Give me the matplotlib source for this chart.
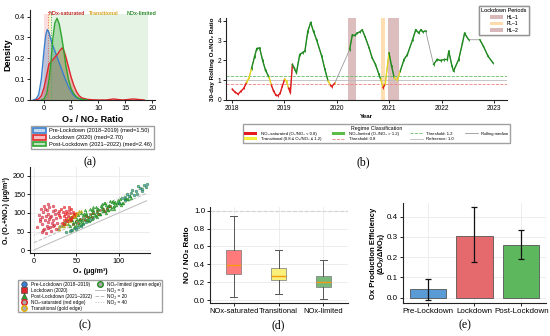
import numpy as np
import pandas as pd
import matplotlib
matplotlib.use("Agg")
import matplotlib.pyplot as plt
import matplotlib.dates as mdates
from matplotlib.patches import Patch
from matplotlib.lines import Line2D

plt.rcParams.update({
    "font.family": ["Liberation Sans", "DejaVu Sans"],
    "font.size": 5,
    "axes.linewidth": 0.8,
    "axes.edgecolor": "#222222",
    "xtick.major.size": 2, "ytick.major.size": 2,
    "xtick.major.width": 0.6, "ytick.major.width": 0.6,
    "xtick.major.pad": 1.5, "ytick.major.pad": 1.5,
    "axes.labelpad": 2,
})

BLUE, RED, GREEN = "#3A7FCB", "#E0262B", "#2FA52F"
C_SAT, C_TR, C_LIM = "#E41A1C", "#E6D51E", "#1E8B1E"

# ---------------- (a) KDE of O3/NO2 ratio (densities) ----------------
pre_x = [-2.0, -1.5, -1.0, -0.5, 0.0, 0.3, 0.6, 0.9, 1.2, 1.5, 2.0, 2.5, 3.0, 3.5, 4.0, 4.5, 5.0, 5.5, 6.0, 7.0, 8.0]
pre_d = [0.0, 0.004, 0.025, 0.10, 0.24, 0.31, 0.338, 0.325, 0.295, 0.27, 0.235, 0.20, 0.165, 0.13, 0.095, 0.065, 0.04, 0.022, 0.01, 0.003, 0.0]
lock_x = [-1.5, -1.0, -0.5, 0.0, 0.5, 0.9, 1.5, 2.0, 2.5, 3.0, 3.35, 3.7, 4.0, 4.5, 5.0, 5.5, 6.0, 6.5, 7.0, 8.0, 9.0, 10.0,
          11.5, 12.3, 12.8, 13.4, 14.5, 15.8, 16.5, 17.2, 18.5]
lock_d = [0.0, 0.005, 0.02, 0.06, 0.12, 0.172, 0.19, 0.205, 0.22, 0.24, 0.25, 0.235, 0.21, 0.16, 0.11, 0.07, 0.04, 0.02, 0.01,
          0.003, 0.001, 0.0, 0.0, 0.003, 0.005, 0.003, 0.0, 0.003, 0.005, 0.003, 0.0]
post_x = [-0.5, 0.0, 0.5, 1.0, 1.3, 1.6, 2.0, 2.4, 2.8, 3.2, 3.6, 4.0, 4.5, 5.0, 5.5, 6.0, 6.5, 7.0, 8.0]
post_d = [0.0, 0.005, 0.03, 0.11, 0.19, 0.29, 0.37, 0.392, 0.365, 0.31, 0.245, 0.17, 0.10, 0.055, 0.03, 0.015, 0.007, 0.003, 0.0]
period_labels = ["Pre-Lockdown (2018\u20132019) (med=1.50)", "Lockdown (2020) (med=2.70)",
                 "Post-Lockdown (2021\u20132022) (med=2.46)"]

# ---------------- (b) 30-day rolling O3/NO2 ratio ----------------
b_dates = ["2018-01-05", "2018-01-25", "2018-02-15", "2018-03-08", "2018-03-28", "2018-04-15", "2018-05-01",
           "2018-05-20", "2018-06-10", "2018-06-25", "2018-07-15", "2018-08-05", "2018-08-25", "2018-09-20",
           "2018-10-05", "2018-10-20", "2018-11-05", "2018-11-20", "2018-12-05", "2018-12-20", "2019-01-05",
           "2019-01-18", "2019-02-01", "2019-02-14", "2019-02-28", "2019-03-14", "2019-03-28", "2019-04-20",
           "2019-05-10", "2019-05-26", "2019-06-15", "2019-07-05", "2019-07-25", "2019-08-15", "2019-09-20",
           "2019-10-12", "2019-11-03", "2019-11-20", "2019-11-29", "2019-12-20",
           "2020-04-01", "2020-04-20", "2020-05-10", "2020-05-22", "2020-06-12", "2020-06-28", "2020-07-18",
           "2020-08-15", "2020-09-05", "2020-09-28", "2020-10-22", "2020-11-03", "2020-11-20", "2020-12-05",
           "2020-12-31", "2021-01-18", "2021-02-05", "2021-02-27", "2021-03-20", "2021-04-15", "2021-05-08",
           "2021-06-13", "2021-07-05", "2021-07-25", "2021-08-10", "2021-08-25", "2021-09-12",
           "2021-11-06", "2021-12-01", "2021-12-25", "2022-01-20", "2022-02-10", "2022-02-20", "2022-03-14",
           "2022-03-25", "2022-04-30", "2022-05-26", "2022-06-10", "2022-07-08",
           "2022-09-24", "2022-10-19", "2022-11-20", "2022-12-24"]
b_ratio = [0.55, 0.4, 0.3, 0.45, 0.6, 0.9, 1.1, 1.6, 2.2, 2.6, 2.63, 2.0, 1.5, 1.13,
           0.75, 0.45, 0.25, 0.22, 0.35, 0.7, 1.05, 0.95, 0.6, 0.38, 1.8, 1.6, 1.38, 2.3,
           2.4, 2.47, 3.47, 3.92, 3.47, 3.05, 2.22, 1.55, 0.97, 0.75, 0.68, 0.85,
           2.55, 3.3, 3.3, 3.38, 3.45, 3.55, 3.2, 2.63, 2.13, 1.8, 1.3, 1.05, 0.63, 0.8,
           2.38, 1.72, 1.13, 1.02, 1.48, 2.05, 2.3, 3.05, 3.55, 3.4, 3.55, 3.45, 3.5,
           1.8, 2.05, 2.0, 2.05, 2.05, 2.47, 1.72, 1.47, 2.05, 2.88, 3.38, 3.05,
           3.05, 2.72, 2.22, 1.88]
seg_starts = ["2020-04-01", "2021-11-06", "2022-09-24"]   # data resumes after a gap
lockdowns = [("HL\u20131", "2020-03-23", "2020-05-13", "#C08A8A", 0.55),
             ("PL\u20131", "2020-11-05", "2020-12-02", "#FFC980", 0.6),
             ("HL\u20132", "2020-12-26", "2021-03-08", "#C08A8A", 0.55)]

# ---------------- (c) Ox vs O3 scatter (ug/m3) ----------------
pre_sat_o3 = [4, 6, 7, 8, 9, 10, 11, 12, 12, 13, 14, 15, 15, 16, 17, 18, 18, 19, 20, 21,
              22, 22, 23, 24, 25, 26, 27, 28, 9, 11, 14, 17, 20, 23, 26, 13, 16, 19, 7, 25]
pre_sat_ox = [62, 95, 78, 110, 70, 88, 102, 58, 120, 81, 93, 66, 107, 75, 98, 84, 115, 62, 91, 72,
              104, 80, 118, 68, 96, 86, 74, 100, 48, 55, 45, 60, 52, 64, 58, 112, 124, 88, 85, 108]
pre_tr_o3 = [28, 30, 33, 35, 36, 38, 40, 42, 31, 44, 37, 34]
pre_tr_ox = [58, 62, 66, 72, 70, 78, 80, 86, 64, 90, 75, 68]
pre_lim_o3 = [38, 42, 45, 48, 52, 55, 58, 62, 66, 70, 50, 44,
              100, 104, 107, 110, 112, 115, 118, 120, 122, 125, 127, 130, 132, 134, 116, 123, 108, 128]
pre_lim_ox = [48, 52, 55, 60, 62, 66, 70, 76, 80, 86, 58, 54,
              128, 140, 135, 150, 145, 155, 148, 160, 152, 168, 158, 175, 170, 178, 162, 172, 142, 165]
lock_sat_o3 = [29, 31, 32, 34, 35, 36, 37, 38, 39, 40, 41, 42, 43, 44, 45, 46, 33, 38, 41, 36, 30, 44, 47, 39, 35]
lock_sat_ox = [95, 88, 110, 102, 82, 115, 96, 105, 78, 92, 108, 85, 99, 112, 90, 103, 74, 86, 117, 70, 104, 80, 96, 100, 92]
lock_tr_o3 = [36, 38, 40, 42, 44, 46, 48, 50, 41, 47]
lock_tr_ox = [72, 80, 78, 88, 86, 94, 92, 100, 84, 98]
lock_lim_o3 = [46, 50, 54, 58, 62, 66, 70, 74, 78, 82, 86, 90, 52, 60, 68, 76, 84, 64]
lock_lim_ox = [70, 78, 84, 86, 92, 96, 100, 104, 108, 112, 114, 120, 72, 82, 90, 98, 106, 88]
post_tr_o3 = [30, 33, 36, 38, 40, 43, 45, 47, 50, 52, 55, 35, 42, 48, 53]
post_tr_ox = [58, 66, 72, 70, 80, 84, 90, 88, 96, 100, 104, 64, 78, 92, 106]
post_lim_o3 = [40, 42, 44, 46, 48, 50, 51, 53, 55, 56, 58, 60, 61, 63, 64, 66, 67, 69, 70, 72, 73, 75, 76, 78, 79,
               81, 82, 84, 85, 87, 88, 90, 92, 94, 96, 98, 100, 102, 105, 108, 110, 113, 115,
               45, 49, 52, 54, 57, 59, 62, 65, 68, 71, 74, 77, 80, 83, 86, 89, 91, 93, 95, 97, 99, 101, 104, 107, 111,
               47, 53, 58, 63, 68, 73, 78, 83, 88, 93, 60, 70, 80, 90, 55, 65, 75, 85, 95, 103]
post_lim_no2 = [30, 22, 38, 26, 42, 18, 34, 28, 44, 20, 36, 24, 40, 30, 16, 46, 26, 32, 38, 22, 42, 28, 34, 18, 40,
                30, 24, 44, 36, 20, 32, 28, 38, 24, 34, 30, 26, 36, 22, 30, 28, 34, 26,
                35, 27, 43, 31, 23, 39, 33, 25, 41, 29, 37, 21, 35, 45, 27, 33, 19, 39, 31, 25, 37, 29, 23, 33, 27,
                15, 17, 14, 19, 16, 20, 18, 22, 21, 24, 48, 46, 44, 42, 13, 12, 15, 14, 17, 19]
no2_levels = [0, 20, 40]

# ---------------- (d) NO/NO2 by regime (box stats) ----------------
regimes = ["NOx-saturated", "Transitional", "NOx-limited"]
d_whislo = [0.034, 0.075, 0.015]
d_q1 = [0.296, 0.225, 0.150]
d_med = [0.390, 0.275, 0.205]
d_q3 = [0.565, 0.355, 0.270]
d_whishi = [0.945, 0.565, 0.450]

# ---------------- (e) Ox production efficiency ----------------
periods = ["Pre-Lockdown", "Lockdown", "Post-Lockdown"]
eff = [0.045, 0.305, 0.258]
eff_err_lo = [0.056, 0.127, 0.068]
eff_err_hi = [0.046, 0.140, 0.075]

fig = plt.figure(figsize=(5.5, 3.36), dpi=100)

def style(ax, grid=False):
    ax.spines[["top", "right"]].set_visible(False)
    if grid:
        ax.grid(True, color="#E6E6E6", lw=0.5)
        ax.set_axisbelow(True)

# ===== (a) =====
ax = fig.add_axes([0.0545, 0.7024, 0.2273, 0.2679])
style(ax)
ax.axvspan(0, 0.8, ymax=0.96, color="#F4A0A0", alpha=0.35, lw=0)
ax.axvspan(0.8, 1.2, ymax=0.96, color="#F7E27A", alpha=0.4, lw=0)
ax.axvspan(1.2, 19.3, ymax=0.96, color="#9BD09B", alpha=0.25, lw=0)
ax.axvline(0.8, color="#E06060", ls=":", lw=0.7)
ax.axvline(1.2, color="#55AA55", ls=":", lw=0.7)
for xs, ds, c in [(pre_x, pre_d, BLUE), (lock_x, lock_d, RED), (post_x, post_d, GREEN)]:
    ax.fill_between(xs, ds, color=c, alpha=0.3, lw=0)
    ax.plot(xs, ds, color=c, lw=1.0)
ax.text(4.2, 0.415, "NOx-saturated", color="#C0302B", fontsize=3.8, fontweight="bold", ha="center", va="center")
ax.text(11.1, 0.415, "Transitional", color="#D9A520", fontsize=3.8, fontweight="bold", ha="center", va="center")
ax.text(18.1, 0.415, "NOx-limited", color="#2E8B2E", fontsize=3.8, fontweight="bold", ha="center", va="center")
ax.set_xlim(-2.6, 20.5)
ax.set_ylim(0, 0.432)
ax.set_xticks([0, 5, 10, 15, 20])
ax.set_yticks([0.0, 0.1, 0.2, 0.3, 0.4])
ax.tick_params(labelsize=5.3)
ax.set_xlabel("O\u2083 / NO\u2082 Ratio", fontsize=6.5, fontweight="bold")
ax.set_ylabel("Density", fontsize=6.5, fontweight="bold")
h_a = [Patch(facecolor=matplotlib.colors.to_rgba(c, 0.3), edgecolor=c, lw=1.2, label=l)
       for c, l in zip([BLUE, RED, GREEN], period_labels)]
ax.legend(handles=h_a, loc="upper center", bbox_to_anchor=(0.168, 0.633), bbox_transform=fig.transFigure,
          fontsize=4.1, frameon=True, fancybox=False, edgecolor="#888888", borderpad=0.35,
          labelspacing=0.25, handlelength=2.2, handleheight=0.9, handletextpad=0.5)

# ===== (b) =====
ax = fig.add_axes([0.4109, 0.7024, 0.5109, 0.2440])
style(ax)
dates = pd.to_datetime(b_dates)
ratio = np.array(b_ratio)
for lab, s, e, c, a in lockdowns:
    ax.axvspan(pd.Timestamp(s), pd.Timestamp(e), color=c, alpha=a, lw=0)
ax.axhline(0.8, color="#F08080", ls="--", lw=0.6)
ax.axhline(1.0, color="#BBBBBB", ls="-", lw=0.6)
ax.axhline(1.2, color="#66BB66", ls="--", lw=0.6)
ax.plot(dates, ratio, color="#999999", lw=0.6, zorder=2)

def regime_color(v):
    return C_SAT if v < 0.8 else (C_TR if v <= 1.2 else C_LIM)

starts = set(pd.to_datetime(seg_starts))
for i in range(len(dates) - 1):
    if dates[i + 1] in starts:
        continue
    ax.plot(dates[i:i + 2], ratio[i:i + 2], color=regime_color(ratio[i]), lw=1.0, zorder=3)
ax.scatter(dates, ratio, c=[regime_color(v) for v in ratio], s=3, marker="|", lw=0.6, zorder=4)
ax.set_xlim(pd.Timestamp("2017-11-23"), pd.Timestamp("2023-04-01"))
ax.set_ylim(0, 4.15)
ax.set_yticks([0, 1, 2, 3, 4])
ax.xaxis.set_major_locator(mdates.YearLocator())
ax.xaxis.set_major_formatter(mdates.DateFormatter("%Y"))
ax.tick_params(labelsize=4.8)
ax.set_xlabel("Year", fontsize=4.5, fontweight="bold", labelpad=1.5)
ax.set_ylabel("30-day Rolling O\u2083/NO\u2082 Ratio", fontsize=4.5, fontweight="bold")
h_lock = [Patch(facecolor=c, alpha=a, label=lab) for lab, s, e, c, a in lockdowns]
leg1 = ax.legend(handles=h_lock, title="Lockdown Periods", loc="upper right", bbox_to_anchor=(0.966, 0.989),
                 bbox_transform=fig.transFigure, fontsize=3.6, title_fontsize=4.0, frameon=True, fancybox=False,
                 edgecolor="#888888", borderpad=0.4, labelspacing=0.3, handlelength=2.6, handleheight=0.8)
ax.add_artist(leg1)
h_reg = [Patch(facecolor=C_SAT, label="NO\u2093-saturated (O\u2083/NO\u2082 < 0.8)"),
         Patch(facecolor="#F5EE3A", label="Transitional (0.8 \u2264 O\u2083/NO\u2082 \u2264 1.2)"),
         Patch(facecolor="#5DBB4A", label="NO\u2093-limited (O\u2083/NO\u2082 > 1.2)"),
         Line2D([], [], color="#F08080", ls="--", lw=0.6, label="Threshold: 0.8"),
         Line2D([], [], color="#66BB66", ls="--", lw=0.6, label="Threshold: 1.2"),
         Line2D([], [], color="#BBBBBB", lw=0.6, label="Reference: 1.0"),
         Line2D([], [], color="#999999", lw=0.6, label="Rolling median")]
fig.legend(handles=h_reg, title="Regime Classification", loc="upper center", bbox_to_anchor=(0.6845, 0.637),
           ncol=4, fontsize=3.1, title_fontsize=3.8, frameon=True, fancybox=False, edgecolor="#888888",
           borderpad=0.35, labelspacing=0.3, columnspacing=2.6, handlelength=3.0, handleheight=0.7)

# ===== (c) =====
ax = fig.add_axes([0.0545, 0.2470, 0.2182, 0.2560])
style(ax, grid=True)
o3_max = max(max(pre_lim_o3), max(post_lim_o3))
line_x = np.array([0, o3_max - 1])
for lvl, ls in zip(no2_levels, ["-", "--", ":"]):
    ax.plot(line_x, line_x + lvl, color="#BBBBBB", ls=ls, lw=0.7, zorder=1)
post_lim_ox = [a + b for a, b in zip(post_lim_o3, post_lim_no2)]   # Ox = O3 + NO2
groups = [
    (post_lim_o3, post_lim_ox, GREEN, C_LIM, "^"),
    (post_tr_o3, post_tr_ox, GREEN, "#E0B000", "^"),
    (pre_lim_o3, pre_lim_ox, BLUE, C_LIM, "o"),
    (lock_lim_o3, lock_lim_ox, RED, C_LIM, "s"),
    (lock_tr_o3, lock_tr_ox, RED, "#E0B000", "s"),
    (pre_tr_o3, pre_tr_ox, BLUE, "#E0B000", "o"),
    (lock_sat_o3, lock_sat_ox, RED, C_SAT, "s"),
    (pre_sat_o3, pre_sat_ox, "#C05080", C_SAT, "o"),
]
for xs, ys, fc, ec, m in groups:
    ax.scatter(xs, ys, s=3.5, marker=m, facecolor=fc, edgecolor=ec, lw=0.5, alpha=0.7, zorder=3)
ax.set_xlim(-4.7, 137)
ax.set_ylim(-8, 224)
ax.set_xticks([0, 50, 100])
ax.set_yticks([0, 50, 100, 150, 200])
ax.tick_params(labelsize=5.2)
ax.set_xlabel("O\u2083 (\u03bcg/m\u00b3)", fontsize=5, fontweight="bold")
ax.set_ylabel("O\u2093 (O\u2083+NO\u2082) (\u03bcg/m\u00b3)", fontsize=5, fontweight="bold")
h_c = [Line2D([], [], ls="", marker="o", mfc=BLUE, mec="#333333", mew=0.4, ms=4, label="Pre-Lockdown (2018\u20132019)"),
       Line2D([], [], ls="", marker="s", mfc=RED, mec="#333333", mew=0.4, ms=4, label="Lockdown (2020)"),
       Line2D([], [], ls="", marker="^", mfc=GREEN, mec="#333333", mew=0.4, ms=4, label="Post-Lockdown (2021\u20132022)"),
       Line2D([], [], ls="", marker="o", mfc="#AAAAAA", mec=C_SAT, mew=1.0, ms=4, label="NO\u2093-saturated (red edge)"),
       Line2D([], [], ls="", marker="o", mfc="#AAAAAA", mec="#E0B000", mew=1.0, ms=4, label="Transitional (gold edge)"),
       Line2D([], [], ls="", marker="o", mfc="#AAAAAA", mec=C_LIM, mew=1.0, ms=4, label="NO\u2093-limited (green edge)"),
       Line2D([], [], color="#BBBBBB", ls="-", lw=0.7, label="NO\u2082 = 0"),
       Line2D([], [], color="#BBBBBB", ls="--", lw=0.7, label="NO\u2082 = 20"),
       Line2D([], [], color="#BBBBBB", ls=":", lw=0.7, label="NO\u2082 = 40")]
fig.legend(handles=h_c, loc="upper center", bbox_to_anchor=(0.1636, 0.1726), ncol=2, fontsize=3.4,
           frameon=True, fancybox=False, edgecolor="#888888", borderpad=0.35, labelspacing=0.2,
           columnspacing=0.8, handlelength=2.0, handletextpad=0.4)

# ===== (d) =====
ax = fig.add_axes([0.3818, 0.0982, 0.2509, 0.2857])
style(ax, grid=True)
stats = [dict(whislo=a, q1=b, med=c, q3=d, whishi=e, fliers=[], label=l)
         for a, b, c, d, e, l in zip(d_whislo, d_q1, d_med, d_q3, d_whishi, regimes)]
bp = ax.bxp(stats, positions=[0, 1, 2], widths=0.33, patch_artist=True, showfliers=False,
            medianprops=dict(color="#F39C12", lw=1.0),
            whiskerprops=dict(color="#555555", lw=0.7), capprops=dict(color="#555555", lw=0.7),
            boxprops=dict(edgecolor="#777777", lw=0.5))
for patch, c in zip(bp["boxes"], ["#FF7B7B", "#F8F07A", "#78B878"]):
    patch.set_facecolor(c)
ax.axhline(1.0, color="#AAAAAA", ls="--", lw=0.8, zorder=0)
ax.set_xlim(-0.53, 2.55)
ax.set_ylim(-0.03, 1.04)
ax.set_yticks([0.0, 0.2, 0.4, 0.6, 0.8, 1.0])
ax.tick_params(axis="y", labelsize=5.8)
ax.tick_params(axis="x", labelsize=5.4)
ax.set_ylabel("NO / NO\u2082 Ratio", fontsize=5.8, fontweight="bold")

# ===== (e) =====
ax = fig.add_axes([0.7327, 0.0982, 0.26, 0.2976])
style(ax, grid=True)
xe = np.arange(len(periods))
ax.bar(xe, eff, width=0.78, color=["#5B9BD5", "#E46A6E", "#5DB85D"], edgecolor="#555555", lw=0.6, zorder=2)
ax.errorbar(xe, eff, yerr=[eff_err_lo, eff_err_hi], fmt="none", ecolor="#111111", elinewidth=0.9,
            capsize=2.5, capthick=0.9, zorder=3)
ax.set_xticks(xe)
ax.set_xticklabels(periods)
ax.set_xlim(-0.53, 2.53)
ax.set_ylim(-0.026, 0.467)
ax.set_yticks([0.0, 0.1, 0.2, 0.3, 0.4])
ax.tick_params(labelsize=5.8)
ax.set_ylabel("Ox Production Efficiency\n(\u0394O\u2093/\u0394NO\u2093)", fontsize=5.5, fontweight="bold",
              linespacing=1.0)

# panel letters
for t, x, y in [("(a)", 0.1636, 0.518), ("(b)", 0.66, 0.518), ("(c)", 0.1545, 0.033),
                ("(d)", 0.505, 0.033), ("(e)", 0.845, 0.033)]:
    fig.text(x, y, t, ha="center", va="center", fontsize=8.5, family=["Liberation Serif", "DejaVu Serif"])

fig.savefig("out.png", dpi=100)
